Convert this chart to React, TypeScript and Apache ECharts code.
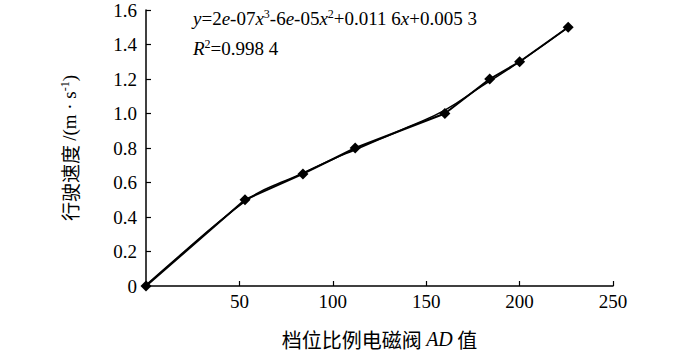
import React, { useEffect, useRef } from "react";
import * as echarts from "echarts";

const dataX = [0, 53, 84, 112, 160, 184, 200, 226];
const dataY = [0, 0.5, 0.65, 0.8, 1.0, 1.2, 1.3, 1.5];
const trendX = [0, 20, 40, 53, 60, 70, 80, 100, 112, 125, 140, 160, 180, 200, 226];
const trendY = [0.005, 0.195, 0.38, 0.49, 0.54, 0.59, 0.635, 0.735, 0.79, 0.85, 0.92, 1.02, 1.16, 1.3, 1.5];
const xTicks = { min: 0, max: 250, interval: 50 };
const yTicks = { min: 0, max: 1.6, interval: 0.2 };

const serif = "'Liberation Serif', 'Times New Roman', serif";
const cjk = "'Noto Sans CJK SC', sans-serif";

export default function App() {
  const ref = useRef<HTMLDivElement>(null);
  useEffect(() => {
    document.body.style.margin = "0";
    if (!ref.current) return;
    const chart = echarts.init(ref.current, null, { renderer: "svg" });
    const eqRich = {
      n: { fontFamily: serif, fontSize: 19, fill: "#000" },
      i: { fontFamily: serif, fontSize: 19, fontStyle: "italic", fill: "#000" },
      s: { fontFamily: serif, fontSize: 12, fill: "#000", padding: [0, 0, 9, 0] },
    };
    chart.setOption({
      animation: false,
      backgroundColor: "#fff",
      grid: { left: 146, right: 87, top: 10, bottom: 64, containLabel: false },
      xAxis: {
        type: "value",
        min: xTicks.min,
        max: xTicks.max,
        interval: xTicks.interval,
        splitLine: { show: false },
        axisLine: { lineStyle: { color: "#000", width: 1.5 } },
        axisTick: { inside: true, length: 5, lineStyle: { color: "#000", width: 1.2 } },
        axisLabel: {
          color: "#000",
          fontFamily: serif,
          fontSize: 19,
          margin: 6,
          formatter: (v: number) => (v === 0 ? "" : String(v)),
        },
        name: "{a|档位比例电磁阀 }{i|AD}{a| 值}",
        nameLocation: "middle",
        nameGap: 43,
        nameTextStyle: {
          rich: {
            a: { fontFamily: cjk, fontSize: 20, color: "#000" },
            i: { fontFamily: serif, fontStyle: "italic", fontSize: 20, color: "#000" },
          },
        },
      },
      yAxis: {
        type: "value",
        min: yTicks.min,
        max: yTicks.max,
        interval: yTicks.interval,
        splitLine: { show: false },
        axisLine: { show: true, lineStyle: { color: "#000", width: 1.5 } },
        axisTick: { show: true, inside: true, length: 5, lineStyle: { color: "#000", width: 1.2 } },
        axisLabel: {
          color: "#000",
          fontFamily: serif,
          fontSize: 19,
          margin: 9,
          formatter: (v: number) => (v === 0 ? "0" : v.toFixed(1)),
        },
        name: "{a|行驶速度 }{b|/(m · s}{s|-1}{b|)}",
        nameLocation: "middle",
        nameGap: 66,
        nameRotate: 90,
        nameTextStyle: {
          rich: {
            a: { fontFamily: cjk, fontSize: 19, color: "#000" },
            b: { fontFamily: serif, fontSize: 19, color: "#000" },
            s: { fontFamily: serif, fontSize: 12, color: "#000", padding: [0, 0, 9, 0] },
          },
        },
      },
      graphic: [
        {
          type: "text",
          left: 193,
          top: 8,
          style: {
            text: "{i|y}{n|=2}{i|e}{n|-07}{i|x}{s|3}{n|-6}{i|e}{n|-05}{i|x}{s|2}{n|+0.011 6}{i|x}{n|+0.005 3}",
            rich: eqRich,
          },
        },
        {
          type: "text",
          left: 193,
          top: 38,
          style: {
            text: "{i|R}{s|2}{n|=0.998 4}",
            rich: eqRich,
          },
        },
      ],
      series: [
        {
          type: "line",
          data: trendX.map((x, i) => [x, trendY[i]]),
          smooth: true,
          symbol: "none",
          lineStyle: { color: "#000", width: 1.5 },
          z: 2,
        },
        {
          type: "line",
          data: dataX.map((x, i) => [x, dataY[i]]),
          symbol: "diamond",
          symbolSize: 11,
          itemStyle: { color: "#000" },
          lineStyle: { color: "#000", width: 2 },
          z: 3,
        },
      ],
    });
    return () => chart.dispose();
  }, []);
  return <div ref={ref} style={{ width: 700, height: 354 }} />;
}
